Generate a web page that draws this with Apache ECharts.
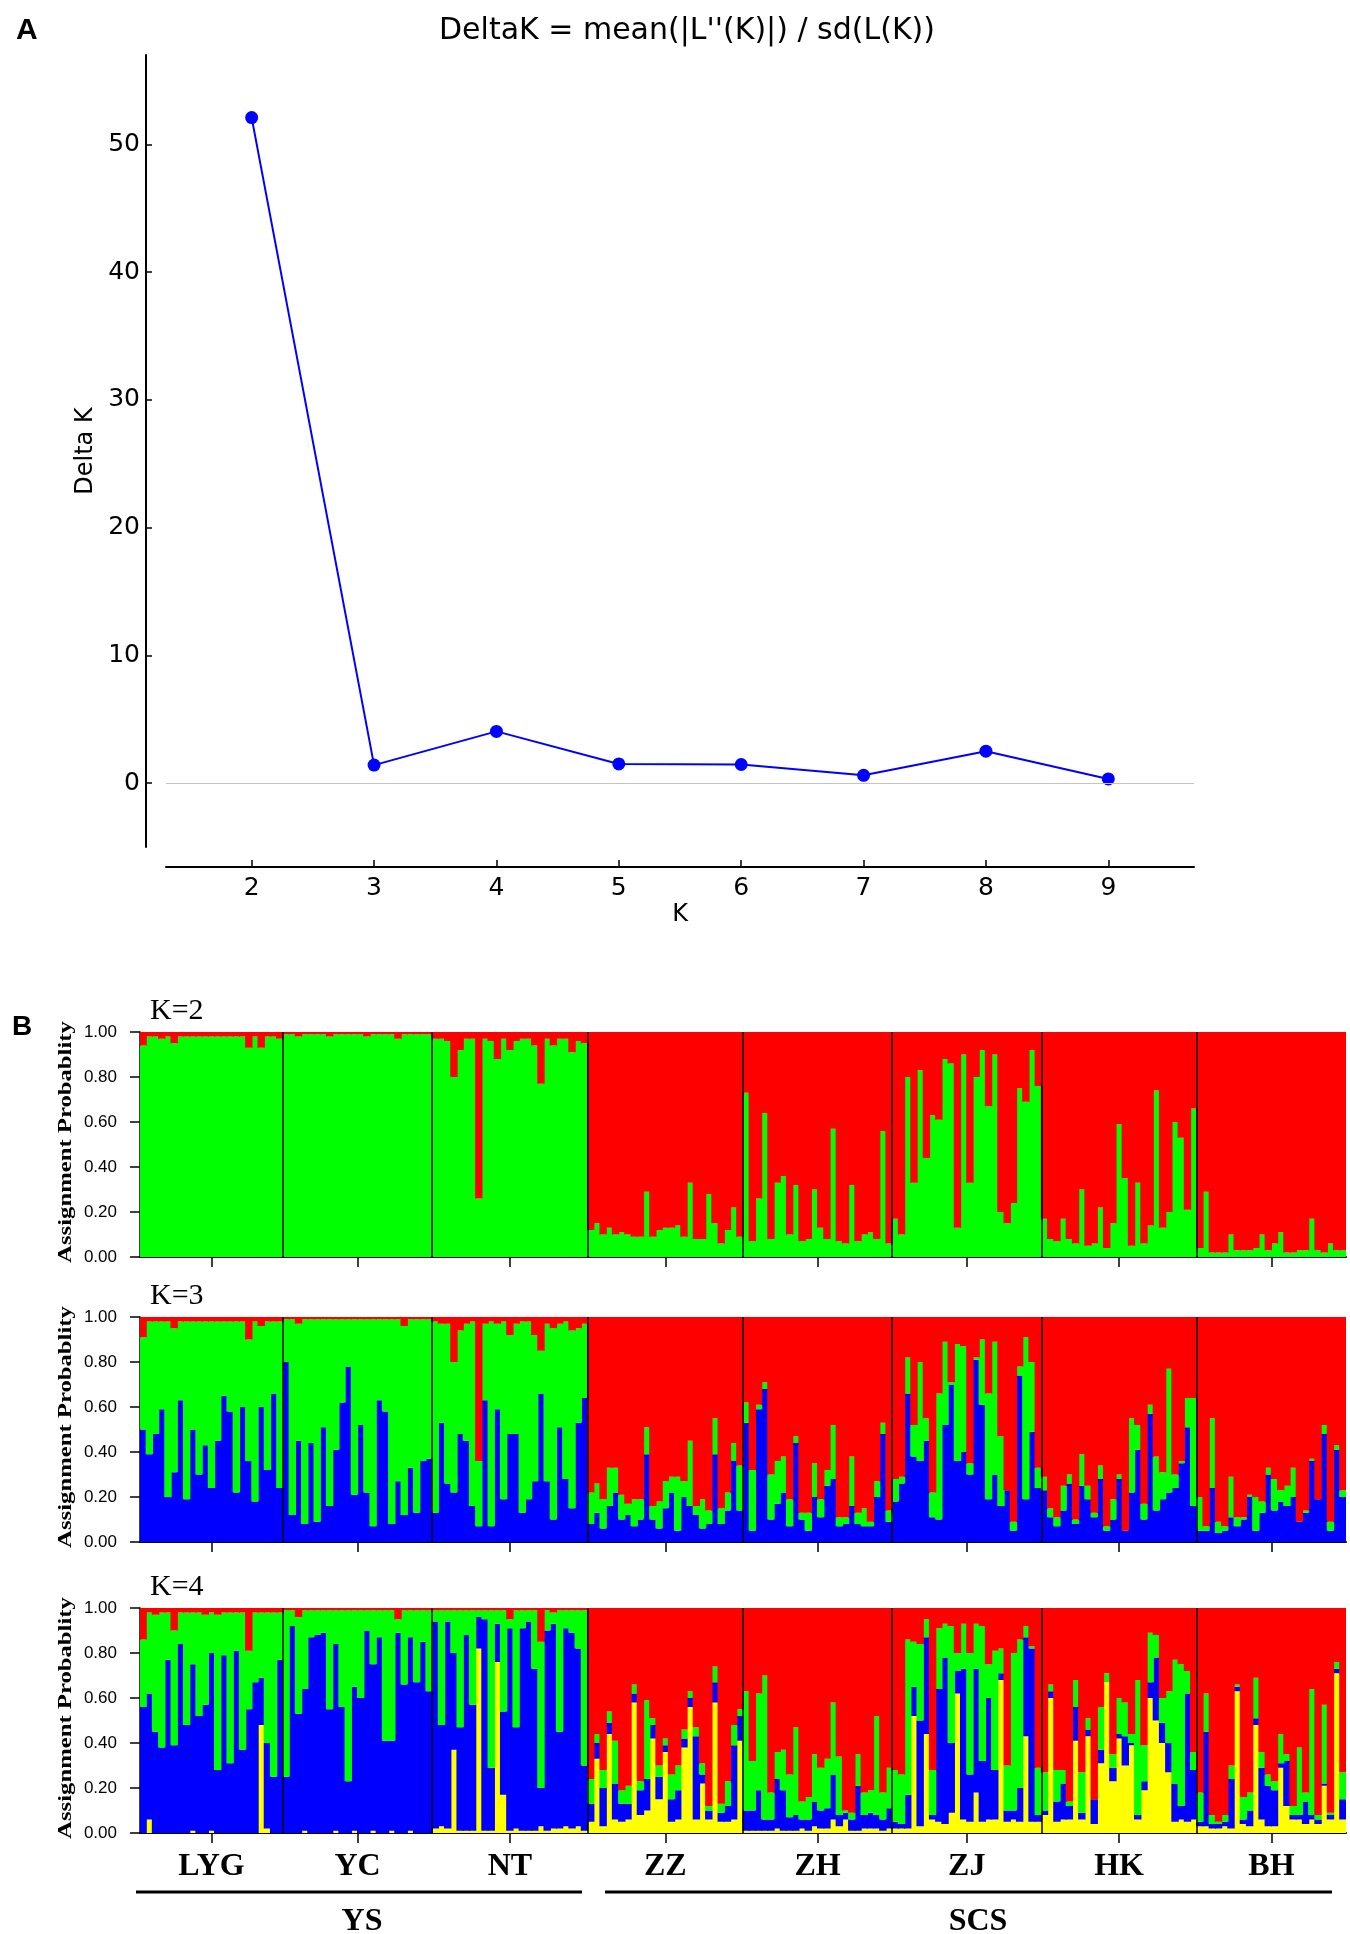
<!DOCTYPE html>
<html>
<head>
<meta charset="utf-8">
<title>DeltaK and STRUCTURE plots</title>
<script src="https://cdn.jsdelivr.net/npm/echarts@6.0.0/dist/echarts.min.js"></script>
<style>
  html, body { margin: 0; padding: 0; background: #fff; }
  #chart { width: 1350px; height: 1934px; }
</style>
</head>
<body>
<div id="chart"></div>
<script>
// ---- panel A: Evanno DeltaK ----
const kValues = [2, 3, 4, 5, 6, 7, 8, 9];
const deltaK = [52.1, 1.41, 4.05, 1.50, 1.46, 0.61, 2.50, 0.33];
const deltaTicks = [0, 10, 20, 30, 40, 50];

// ---- panel B: assignment probabilities ----
const popNames = ['LYG', 'YC', 'NT', 'ZZ', 'ZH', 'ZJ', 'HK', 'BH'];

// K=2, top of green cluster (red above it)
const k2GreenTop = [
  [0.94,0.98,0.98,0.97,0.98,0.95,0.98,0.98,0.98,0.98,0.98,0.98,0.98,0.98,0.98,0.98,0.98,0.93,0.98,0.93,0.98,0.98,0.97],
  [0.99,0.99,0.98,0.99,0.99,0.99,0.99,0.98,0.99,0.99,0.99,0.99,0.99,0.98,0.99,0.99,0.99,0.99,0.97,0.99,0.99,0.99,0.99,0.99],
  [0.97,0.97,0.96,0.80,0.92,0.97,0.97,0.26,0.97,0.96,0.88,0.97,0.92,0.96,0.97,0.97,0.94,0.77,0.97,0.94,0.97,0.97,0.91,0.96,0.95],
  [0.12,0.15,0.10,0.13,0.10,0.11,0.10,0.09,0.09,0.29,0.09,0.12,0.13,0.13,0.14,0.09,0.33,0.08,0.08,0.28,0.15,0.06,0.12,0.22,0.09],
  [0.73,0.07,0.26,0.64,0.08,0.33,0.36,0.10,0.32,0.07,0.08,0.30,0.13,0.08,0.57,0.07,0.06,0.32,0.07,0.10,0.11,0.08,0.56,0.06],
  [0.17,0.10,0.80,0.33,0.83,0.44,0.63,0.61,0.88,0.86,0.13,0.90,0.33,0.80,0.92,0.67,0.90,0.20,0.15,0.24,0.75,0.69,0.92,0.76],
  [0.17,0.08,0.07,0.17,0.08,0.06,0.30,0.05,0.06,0.22,0.04,0.15,0.59,0.35,0.05,0.33,0.06,0.14,0.74,0.13,0.20,0.60,0.53,0.21,0.66],
  [0.04,0.29,0.02,0.02,0.02,0.10,0.03,0.03,0.03,0.04,0.10,0.03,0.06,0.11,0.02,0.02,0.03,0.03,0.17,0.03,0.02,0.06,0.03,0.03]
];

// K=3, top of blue (bottom) and top of green (red above)
const k3BlueTop = [
  [0.50,0.39,0.48,0.59,0.20,0.31,0.63,0.19,0.50,0.30,0.43,0.24,0.45,0.65,0.58,0.22,0.60,0.36,0.18,0.60,0.32,0.66,0.24],
  [0.80,0.12,0.45,0.08,0.44,0.09,0.51,0.16,0.41,0.62,0.78,0.21,0.52,0.22,0.07,0.63,0.58,0.08,0.27,0.12,0.33,0.13,0.36,0.37],
  [0.13,0.53,0.26,0.22,0.48,0.45,0.16,0.07,0.63,0.07,0.59,0.19,0.48,0.48,0.13,0.19,0.27,0.66,0.27,0.10,0.51,0.28,0.15,0.53,0.64],
  [0.08,0.13,0.06,0.16,0.22,0.10,0.12,0.07,0.10,0.39,0.10,0.06,0.15,0.22,0.05,0.20,0.16,0.12,0.06,0.08,0.39,0.08,0.14,0.36,0.14],
  [0.53,0.05,0.59,0.68,0.10,0.17,0.22,0.07,0.44,0.10,0.05,0.20,0.11,0.25,0.28,0.07,0.08,0.16,0.08,0.07,0.07,0.20,0.48,0.09],
  [0.18,0.26,0.66,0.38,0.36,0.45,0.11,0.10,0.52,0.70,0.36,0.40,0.30,0.81,0.61,0.19,0.30,0.16,0.23,0.05,0.74,0.19,0.49,0.24],
  [0.23,0.11,0.07,0.14,0.26,0.08,0.25,0.19,0.11,0.28,0.05,0.10,0.28,0.05,0.22,0.41,0.10,0.57,0.14,0.19,0.22,0.24,0.35,0.51,0.16],
  [0.05,0.05,0.24,0.04,0.05,0.11,0.07,0.10,0.20,0.05,0.13,0.30,0.14,0.18,0.16,0.20,0.09,0.13,0.36,0.19,0.48,0.05,0.41,0.20]
];
const k3GreenTop = [
  [0.91,0.98,0.98,0.98,0.98,0.95,0.98,0.98,0.98,0.98,0.98,0.98,0.98,0.98,0.98,0.98,0.98,0.90,0.98,0.96,0.98,0.98,0.98],
  [0.99,0.99,0.97,0.99,0.99,0.99,0.99,0.99,0.99,0.99,0.99,0.99,0.99,0.99,0.99,0.99,0.99,0.99,0.99,0.96,0.99,0.99,0.99,0.99],
  [0.98,0.97,0.97,0.80,0.94,0.97,0.98,0.36,0.97,0.98,0.97,0.98,0.92,0.97,0.98,0.98,0.92,0.85,0.97,0.95,0.97,0.98,0.94,0.95,0.97],
  [0.22,0.26,0.19,0.33,0.33,0.21,0.17,0.19,0.19,0.51,0.16,0.18,0.27,0.29,0.29,0.27,0.45,0.16,0.19,0.14,0.55,0.15,0.22,0.44,0.34],
  [0.62,0.32,0.61,0.71,0.30,0.36,0.38,0.19,0.47,0.13,0.13,0.35,0.19,0.32,0.52,0.11,0.11,0.38,0.13,0.15,0.09,0.27,0.53,0.14],
  [0.28,0.29,0.82,0.52,0.80,0.55,0.22,0.66,0.89,0.71,0.88,0.87,0.35,0.82,0.90,0.66,0.89,0.47,0.23,0.09,0.78,0.91,0.80,0.33],
  [0.29,0.15,0.11,0.25,0.30,0.10,0.39,0.25,0.13,0.34,0.07,0.19,0.30,0.05,0.55,0.52,0.17,0.61,0.38,0.31,0.77,0.30,0.36,0.64,0.64],
  [0.20,0.07,0.55,0.09,0.07,0.29,0.11,0.11,0.21,0.20,0.18,0.33,0.28,0.23,0.25,0.33,0.09,0.14,0.37,0.19,0.52,0.09,0.43,0.23]
];

// K=4, tops of yellow, blue and green (red above)
const k4YellowTop = [
  [0,0.06,0,0,0,0,0,0,0.01,0,0,0.01,0,0,0,0,0,0,0,0.48,0.02,0,0],
  [0,0,0,0.01,0,0,0,0,0.01,0,0,0.01,0,0,0.01,0,0,0.01,0,0,0.01,0,0,0],
  [0.02,0.03,0.02,0.37,0.01,0.01,0.01,0.82,0.01,0.01,0.76,0.17,0.01,0.02,0.01,0.01,0.01,0.03,0.01,0.02,0.02,0.03,0.02,0.03,0.01],
  [0.05,0.33,0.03,0.44,0.06,0.05,0.06,0.58,0.08,0.10,0.42,0.15,0.36,0.05,0.06,0.38,0.56,0.06,0.22,0.06,0.58,0.05,0.05,0.06,0.41],
  [0.01,0.01,0.01,0.01,0.01,0.02,0.01,0.01,0.01,0.02,0.01,0.03,0.02,0.02,0.06,0.03,0.06,0.01,0.01,0.02,0.02,0.02,0.01,0.02],
  [0.02,0.02,0.02,0.52,0.03,0.44,0.06,0.05,0.04,0.09,0.62,0.06,0.05,0.18,0.05,0.06,0.06,0.68,0.05,0.06,0.05,0.43,0.05,0.05],
  [0.08,0.60,0.05,0.06,0.06,0.41,0.06,0.43,0.04,0.31,0.67,0.23,0.42,0.30,0.39,0.06,0.19,0.60,0.50,0.40,0.27,0.05,0.06,0.05,0.06],
  [0.03,0.03,0.02,0.02,0.03,0.02,0.63,0.04,0.03,0.48,0.06,0.03,0.03,0.29,0.12,0.06,0.06,0.04,0.06,0.04,0.21,0.06,0.71,0.06]
];
const k4BlueTop = [
  [0.56,0.62,0.45,0.38,0.77,0.39,0.84,0.48,0.75,0.52,0.57,0.80,0.28,0.79,0.31,0.81,0.37,0.55,0.67,0.69,0.40,0.25,0.77],
  [0.25,0.92,0.53,0.64,0.87,0.88,0.89,0.55,0.84,0.56,0.23,0.65,0.60,0.90,0.75,0.87,0.41,0.41,0.89,0.66,0.87,0.67,0.85,0.63],
  [0.94,0.48,0.94,0.80,0.47,0.88,0.57,0.96,0.95,0.29,0.93,0.54,0.91,0.47,0.91,0.94,0.73,0.20,0.90,0.93,0.45,0.91,0.89,0.82,0.30],
  [0.13,0.40,0.20,0.49,0.22,0.13,0.13,0.62,0.19,0.24,0.48,0.25,0.39,0.15,0.19,0.42,0.60,0.43,0.26,0.10,0.67,0.09,0.12,0.39,0.52],
  [0.10,0.10,0.19,0.06,0.06,0.24,0.19,0.07,0.08,0.06,0.06,0.14,0.10,0.11,0.26,0.08,0.09,0.06,0.21,0.08,0.09,0.08,0.06,0.11],
  [0.05,0.04,0.17,0.65,0.50,0.87,0.08,0.64,0.78,0.40,0.72,0.73,0.26,0.73,0.32,0.60,0.28,0.71,0.10,0.10,0.20,0.87,0.82,0.08],
  [0.10,0.63,0.14,0.22,0.12,0.56,0.09,0.46,0.15,0.37,0.67,0.29,0.44,0.43,0.40,0.08,0.23,0.67,0.78,0.49,0.40,0.22,0.12,0.62,0.28],
  [0.05,0.45,0.04,0.04,0.05,0.24,0.65,0.06,0.10,0.51,0.29,0.21,0.19,0.31,0.32,0.08,0.08,0.14,0.08,0.06,0.22,0.08,0.73,0.15]
];
const k4GreenTop = [
  [0.86,0.98,0.97,0.98,0.98,0.90,0.98,0.98,0.98,0.98,0.97,0.98,0.97,0.98,0.98,0.98,0.98,0.81,0.98,0.98,0.98,0.98,0.98],
  [0.99,0.99,0.96,0.99,0.99,0.99,0.99,0.99,0.99,0.99,0.99,0.99,0.99,0.99,0.99,0.99,0.99,0.99,0.95,0.99,0.99,0.99,0.99,0.99],
  [0.99,0.99,0.99,0.99,0.99,0.99,0.99,0.99,0.99,0.99,0.99,0.99,0.95,0.99,0.99,0.99,0.99,0.85,0.99,0.98,0.99,0.99,0.99,0.99,0.99],
  [0.24,0.44,0.28,0.54,0.41,0.19,0.21,0.66,0.23,0.59,0.51,0.30,0.42,0.26,0.30,0.46,0.63,0.47,0.31,0.12,0.74,0.13,0.23,0.48,0.55],
  [0.63,0.32,0.62,0.70,0.18,0.36,0.37,0.26,0.47,0.14,0.16,0.35,0.29,0.33,0.58,0.34,0.10,0.09,0.35,0.18,0.19,0.52,0.18,0.29],
  [0.28,0.26,0.86,0.85,0.84,0.95,0.28,0.91,0.93,0.92,0.80,0.93,0.80,0.93,0.92,0.75,0.81,0.82,0.30,0.80,0.86,0.92,0.83,0.29],
  [0.27,0.66,0.28,0.28,0.14,0.68,0.27,0.51,0.15,0.56,0.71,0.35,0.60,0.58,0.44,0.68,0.39,0.89,0.88,0.60,0.63,0.77,0.75,0.72,0.36],
  [0.18,0.62,0.08,0.05,0.08,0.30,0.66,0.16,0.18,0.69,0.36,0.26,0.23,0.44,0.35,0.12,0.38,0.18,0.64,0.08,0.57,0.09,0.76,0.27]
];

const RED = '#ff0000', GREEN = '#00ff00', BLUE = '#0000ff', YELLOW = '#ffff00';

// individuals per population, their boundaries and centres
const counts = k2GreenTop.map(p => p.length);
const nInd = counts.reduce((a, b) => a + b, 0);
const bounds = [];
let acc = 0;
counts.forEach(c => { acc += c; bounds.push(acc); });
const starts = [0].concat(bounds.slice(0, -1));
const centers = counts.map((c, i) => starts[i] + c / 2);
const innerBounds = bounds.slice(0, -1);
const indNames = [];
for (let i = 0; i < nInd; i++) indNames.push('ind' + (i + 1));

const flat = a => [].concat(...a);
const clean = v => Math.max(0, Math.round(v * 1000) / 1000);

const panels = [
  { label: 'K=2', tops: [flat(k2GreenTop)], colors: [GREEN, RED] },
  { label: 'K=3', tops: [flat(k3BlueTop), flat(k3GreenTop)], colors: [BLUE, GREEN, RED] },
  { label: 'K=4', tops: [flat(k4YellowTop), flat(k4BlueTop), flat(k4GreenTop)], colors: [YELLOW, BLUE, GREEN, RED] }
];
const panelTops = [1032, 1317, 1608];
const panelH = 225;
const plotLeft = 140, plotRight = 1346;
const barPx = (plotRight - plotLeft) / nInd + 1.2; // overlap neighbours by >1px so no seams show

const serif = 'Liberation Serif';
const grids = [{ left: 166, top: 55, width: 1028, height: 792 }];
const xAxes = [{
  type: 'value', gridIndex: 0, min: 1.3, max: 9.7, offset: 20,
  axisLine: { onZero: false, lineStyle: { color: '#000', width: 2 } },
  axisTick: { customValues: kValues, inside: true, length: 7, lineStyle: { color: '#000', width: 1.5 } },
  axisLabel: { customValues: kValues, color: '#000', fontSize: 25, fontFamily: 'DejaVu Sans', margin: 9 },
  splitLine: { show: false },
  name: 'K', nameLocation: 'middle', nameGap: 36,
  nameTextStyle: { color: '#000', fontSize: 24, fontFamily: 'DejaVu Sans' }
}];
const yAxes = [{
  type: 'value', gridIndex: 0, min: -5, max: 57, offset: 20,
  axisLine: { show: true, onZero: false, lineStyle: { color: '#000', width: 2 } },
  axisTick: { show: true, customValues: deltaTicks, inside: true, length: 6, lineStyle: { color: '#000', width: 1.5 } },
  axisLabel: { customValues: deltaTicks, color: '#000', fontSize: 25, fontFamily: 'DejaVu Sans', margin: 6 },
  splitLine: { show: false },
  name: 'Delta K', nameLocation: 'middle', nameGap: 47,
  nameTextStyle: { color: '#000', fontSize: 24, fontFamily: 'DejaVu Sans' }
}];
const series = [{
  type: 'line',
  xAxisIndex: 0, yAxisIndex: 0,
  data: kValues.map((k, i) => [k, deltaK[i]]),
  symbol: 'circle', symbolSize: 13,
  itemStyle: { color: '#0000ff' },
  lineStyle: { color: '#0000ff', width: 2 },
  silent: true,
  markLine: {
    silent: true, symbol: 'none', label: { show: false },
    lineStyle: { color: '#c4c4c4', width: 1.2, type: 'solid' },
    data: [{ yAxis: 0 }]
  },
  z: 3
}];

panels.forEach((p, pi) => {
  const gi = pi + 1;
  const isLast = pi === panels.length - 1;
  grids.push({ left: plotLeft, width: plotRight - plotLeft, top: panelTops[pi], height: panelH });
  // category axis carries the bars, value axis draws ticks/labels/separators
  xAxes.push({ type: 'category', gridIndex: gi, data: indNames, show: false });
  xAxes.push({
    type: 'value', gridIndex: gi, min: 0, max: nInd, position: 'bottom',
    axisLine: { onZero: false, lineStyle: { color: '#000', width: 2 } },
    axisTick: { customValues: centers, length: 10, lineStyle: { color: '#000', width: 1.5 } },
    axisLabel: {
      show: isLast, customValues: centers, margin: 18, color: '#000',
      fontSize: 32, fontWeight: 'bold', fontFamily: serif,
      formatter: v => {
        const k = centers.findIndex(c => Math.abs(c - v) < 0.01);
        return k >= 0 ? popNames[k] : '';
      }
    },
    splitLine: { show: false }
  });
  yAxes.push({
    type: 'value', gridIndex: gi, min: 0, max: 1, interval: 0.2,
    axisLine: { show: true, onZero: false, lineStyle: { color: '#000', width: 1.5 } },
    axisTick: { show: true, length: 10, lineStyle: { color: '#000', width: 1.5 } },
    axisLabel: { color: '#000', fontSize: 17, fontFamily: 'Liberation Sans', margin: 23, formatter: v => v.toFixed(2) },
    splitLine: { show: false }
  });

  const tops = p.tops.concat([indNames.map(() => 1)]);
  tops.forEach((t, li) => {
    const below = li === 0 ? null : tops[li - 1];
    const color = p.colors[li];
    series.push({
      type: 'bar',
      xAxisIndex: 2 * pi + 1, yAxisIndex: gi,
      stack: 'k' + pi,
      barWidth: barPx,
      data: t.map((v, i) => clean(v - (below ? below[i] : 0))),
      itemStyle: { color: color, borderWidth: 0 },
      silent: true
    });
  });
  // population separators
  series.push({
    type: 'line',
    xAxisIndex: 2 * pi + 2, yAxisIndex: gi,
    data: innerBounds.map(b => [b, 1]),
    symbol: 'none', lineStyle: { opacity: 0 }, silent: true,
    markLine: {
      silent: true, symbol: 'none', label: { show: false },
      lineStyle: { color: '#000', width: 1.5, type: 'solid' },
      data: innerBounds.map(b => ({ xAxis: b }))
    },
    z: 5
  });
});

const graphics = [
  { type: 'text', x: 16, y: 31, style: { text: 'A', font: 'bold 30px "Liberation Sans"', fill: '#000', textVerticalAlign: 'middle' } },
  { type: 'text', x: 12, y: 1027, style: { text: 'B', font: 'bold 28px "Liberation Sans"', fill: '#000', textVerticalAlign: 'middle' } },
  { type: 'line', shape: { x1: 136, y1: 1892, x2: 582, y2: 1892 }, style: { stroke: '#000', lineWidth: 3 } },
  { type: 'line', shape: { x1: 605, y1: 1892, x2: 1332, y2: 1892 }, style: { stroke: '#000', lineWidth: 3 } },
  { type: 'text', x: 362, y: 1922, style: { text: 'YS', font: 'bold 32px "Liberation Serif"', fill: '#000', textAlign: 'center', textVerticalAlign: 'middle' } },
  { type: 'text', x: 978, y: 1922, style: { text: 'SCS', font: 'bold 32px "Liberation Serif"', fill: '#000', textAlign: 'center', textVerticalAlign: 'middle' } }
];
panels.forEach((p, pi) => {
  graphics.push({
    type: 'text', x: 150, y: panelTops[pi] - 21,
    style: { text: p.label, font: '30px "Liberation Serif"', fill: '#000', textVerticalAlign: 'middle' }
  });
  // y-axis title, drawn long and narrow like the original
  graphics.push({
    type: 'text', x: 66, y: panelTops[pi] + 110, rotation: Math.PI / 2, scaleX: 1.3,
    style: { text: 'Assignment Probablity', font: 'bold 19px "Liberation Serif"', fill: '#000', textAlign: 'center', textVerticalAlign: 'middle' }
  });
});

const chart = echarts.init(document.getElementById('chart'), null, { renderer: 'canvas' });
chart.setOption({
  animation: false,
  backgroundColor: '#ffffff',
  title: {
    text: "DeltaK = mean(|L''(K)|) / sd(L(K))",
    left: 682, top: 11, textAlign: 'center',
    textStyle: { fontFamily: 'DejaVu Sans', fontSize: 30, fontWeight: 'normal', color: '#000' }
  },
  grid: grids,
  xAxis: xAxes,
  yAxis: yAxes,
  series: series,
  graphic: graphics
});
</script>
</body>
</html>
